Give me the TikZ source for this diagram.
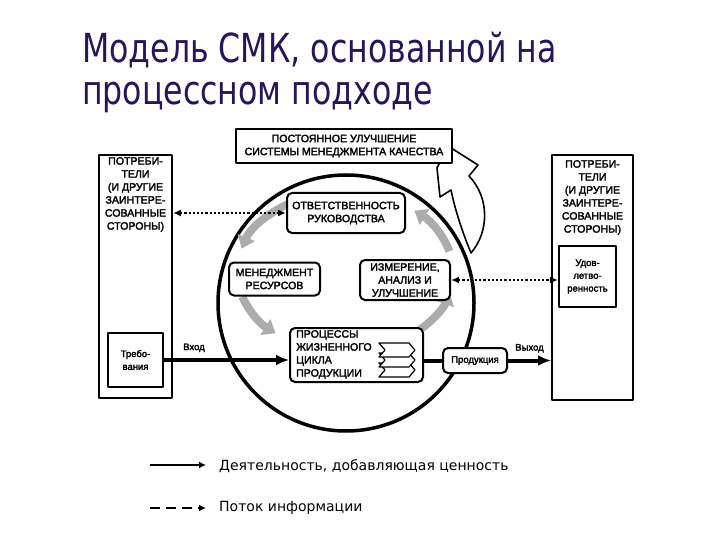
\documentclass[tikz,border=0pt]{standalone}
\usepackage{fontspec}
\setmainfont{Liberation Sans}
\newfontfamily\boxfont[FakeBold=2.5]{Liberation Sans}
\newfontfamily\titlefont[FakeStretch=0.79]{DejaVu Sans}
\newfontfamily\legendfont{DejaVu Sans}
\usepackage{xcolor}
\usetikzlibrary{arrows.meta,calc,positioning}

\definecolor{titleblue}{RGB}{40,20,90}

\begin{document}
\begin{tikzpicture}[x=1pt, y=1pt, line join=round,
  box/.style={draw, line width=2pt, fill=white, inner sep=0pt},
  rbox/.style={box, rounded corners=5pt},
  txt/.style={font=\boxfont\fontsize{10.6}{13}\selectfont, align=center, inner sep=0pt},
  small/.style={font=\boxfont\fontsize{9.5}{12.8}\selectfont, align=center, inner sep=0pt},
  thickarrow/.style={line width=4pt, -{Latex[length=13pt,width=11pt]}},
  infoarrow/.style={line width=2.2pt, dotted, {Latex[length=8pt,width=7pt]}-{Latex[length=8pt,width=7pt]}},
  grayarrow/.style={line width=8pt, gray!65, -{Triangle[width=18pt,length=12pt]}},
  hollow/.style={draw, line width=1.6pt, fill=white},
  chevron/.style={draw, line width=1.2pt, fill=white}]

\useasboundingbox (0,0) rectangle (720,-540);

% title
\node[anchor=north west, inner sep=0pt, align=left, text=titleblue,
  font=\titlefont\fontsize{40}{42}\selectfont] (title) at (82,-32)
  {Модель СМК, основанной на\\процессном подходе};

% big circle and the cycle inside it
\coordinate (c) at (346,-303);
\coordinate (cyc) at (345,-272);
\draw[line width=3.5pt] (c) circle[radius=128];

\draw[grayarrow] ($(cyc)+(118:108 and 80)$) arc[start angle=118, end angle=163, x radius=108, y radius=80];
\draw[grayarrow] ($(cyc)+(198:108 and 80)$) arc[start angle=198, end angle=230, x radius=108, y radius=80];
\draw[grayarrow] ($(cyc)+(312:108 and 80)$) arc[start angle=312, end angle=345, x radius=108, y radius=80];
\draw[grayarrow] ($(cyc)+(15:108 and 80)$) arc[start angle=15, end angle=50, x radius=108, y radius=80];

% improvement arrow
\draw[hollow] (471,-253) .. controls (489,-232) and (490,-198) .. (469,-176)
  -- (478,-165) -- (448,-146) -- (437,-168) -- (440,-197) -- (451,-190)
  .. controls (456,-214) and (464,-236) .. (471,-253) -- cycle;

% boxes
\node[box, minimum width=216, minimum height=34] (improve) at (344,-146) {};
\node[txt] at (improve) {ПОСТОЯННОЕ УЛУЧШЕНИЕ\\СИСТЕМЫ МЕНЕДЖМЕНТА КАЧЕСТВА};

\node[box, minimum width=73, minimum height=243] (custL) at (135.5,-276.5) {};
\node[txt, anchor=north] at (135.5,-157) {ПОТРЕБИ-\\ТЕЛИ\\(И ДРУГИЕ\\ЗАИНТЕРЕ-\\СОВАННЫЕ\\СТОРОНЫ)};
\node[box, minimum width=55, minimum height=54] (req) at (135.5,-360) {};
\node[small] at (req) {Требо-\\вания};

\node[box, minimum width=81, minimum height=245] (custR) at (592.5,-277.5) {};
\node[txt, anchor=north] at (592.5,-160) {ПОТРЕБИ-\\ТЕЛИ\\(И ДРУГИЕ\\ЗАИНТЕРЕ-\\СОВАННЫЕ\\СТОРОНЫ)};
\node[box, minimum width=57, minimum height=61] (sat) at (587.5,-276.5) {};
\node[small] at (sat) {Удов-\\летво-\\ренность};

\node[rbox, minimum width=118, minimum height=40] (resp) at (346,-213) {};
\node[txt] at (resp) {ОТВЕТСТВЕННОСТЬ\\РУКОВОДСТВА};
\node[rbox, minimum width=91, minimum height=33] (res) at (274.5,-279) {};
\node[txt] at (res) {МЕНЕДЖМЕНТ\\РЕСУРСОВ};
\node[rbox, minimum width=90, minimum height=40] (meas) at (405,-280) {};
\node[txt] at (meas) {ИЗМЕРЕНИЕ,\\АНАЛИЗ И\\УЛУЧШЕНИЕ};

\node[rbox, minimum width=133, minimum height=54] (proc) at (356.5,-355) {};
\node[txt, align=left, anchor=north west] at (296,-330) {ПРОЦЕССЫ\\ЖИЗНЕННОГО\\ЦИКЛА\\ПРОДУКЦИИ};
\foreach \dy in {20,10,0}
  \draw[chevron] (379,{-343-\dy}) -- ++(30,0) -- ++(6,-7) -- ++(-6,-7) -- ++(-30,0) -- ++(6,7) -- cycle;

\node[rbox, minimum width=64, minimum height=25] (prod) at (475,-360.5) {};
\node[small] at (prod) {Продукция};

% flows
\draw[thickarrow] (req.east) -- (req.east -| proc.west) node[pos=0.24, above=6pt, small] {Вход};
\draw[line width=4pt] (proc.east |- prod) -- (prod.west);
\draw[thickarrow] (prod.east) -- (prod -| custR.west) node[midway, above=6pt, small] {Выход};
\draw[infoarrow] (custL.east |- resp) -- (resp.west);
\draw[infoarrow] (meas.east) -- (meas -| sat.west);

% legend
\coordinate (legA1) at (150,-465);
\coordinate (legA2) at (206,-465);
\coordinate (legB1) at (150,-508);
\coordinate (legB2) at (206,-508);
\draw[line width=2.6pt, -{Latex[length=7pt,width=7pt]}] (legA1) -- (legA2);
\draw[line width=2.6pt, dash pattern=on 10pt off 6pt, -{Latex[length=7pt,width=7pt]}] (legB1) -- (legB2);
\node[anchor=west, inner sep=0pt, font=\legendfont\fontsize{14}{16}\selectfont] (legA) at (219,-466) {Деятельность, добавляющая ценность};
\node[anchor=west, inner sep=0pt, font=\legendfont\fontsize{14}{16}\selectfont] (legB) at (219,-508) {Поток информации};

\end{tikzpicture}
\end{document}
